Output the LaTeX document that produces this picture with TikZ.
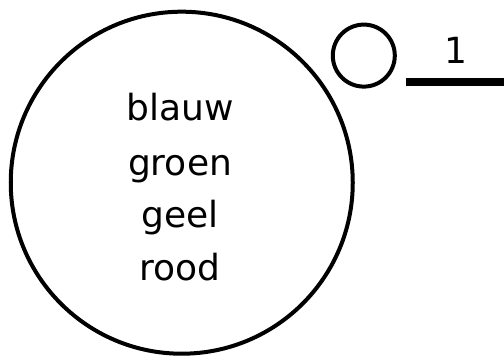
\documentclass[tikz,border=0pt]{standalone}
\usepackage{fontspec}
\usetikzlibrary{positioning}
\newfontfamily\handfont{DejaVu Sans}
\newcommand{\hand}{\handfont\fontsize{36bp}{40bp}\selectfont}

\begin{document}
\begin{tikzpicture}[
    x=1bp, y=1bp,
    ring/.style={circle, draw, line width=4bp, inner sep=0pt},
    word/.style={font=\hand, anchor=base, inner sep=0pt},
    answer/.style={line width=8bp}
]
    \useasboundingbox (0,0) rectangle (504,356);

    \node[ring, minimum size=342bp] (bag) at (181.75,173.3) {};
    \node[ring, minimum size=62bp] (slot) at (363.8,300.4) {};

    \node[word] (blauw) at (180,236) {blauw};
    \node[word] (groen) at (180,181) {groen};
    \node[word] (geel) at (180,129) {geel};
    \node[word] (rood) at (180,76) {rood};

    \node[word] (count) at (456,293) {1};
    \coordinate (lineL) at (406,274);
    \coordinate (lineR) at (504,274);
    \draw[answer] (lineL) -- (lineR);
\end{tikzpicture}
\end{document}
